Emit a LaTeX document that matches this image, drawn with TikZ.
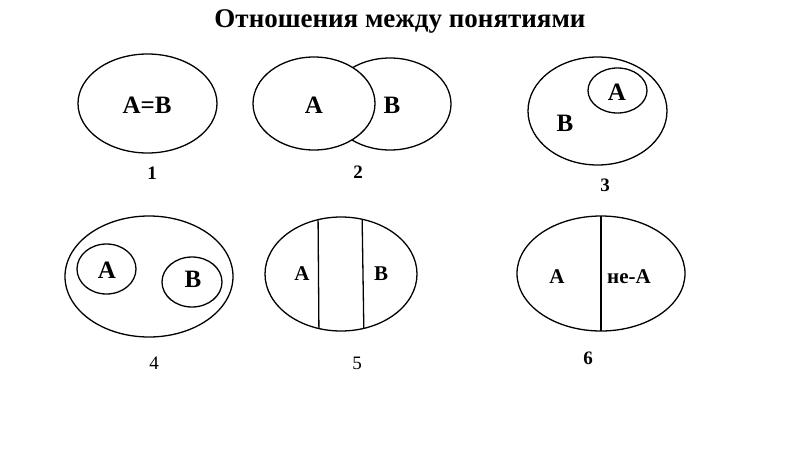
\documentclass[tikz,border=0pt]{standalone}
\usepackage{fontspec}
\setmainfont{Liberation Serif}
\begin{document}
\begin{tikzpicture}[x=1pt, y=-1pt,
    ring/.style={line width=1.3pt},
    tag/.style={font=\fontsize{25}{27}\selectfont\bfseries, inner sep=0pt},
    small tag/.style={font=\fontsize{21}{23}\selectfont\bfseries, inner sep=0pt},
    num/.style={font=\fontsize{19}{21}\selectfont\bfseries, inner sep=0pt},
    plain num/.style={font=\fontsize{19}{21}\selectfont, inner sep=0pt}]
    \useasboundingbox (0,0) rectangle (800,450);

    \node[anchor=base, inner sep=0pt, font=\fontsize{27}{29}\selectfont\bfseries] (title) at (400,27) {Отношения между понятиями};

    % 1: equal
    \draw[ring] (147.5,103.5) ellipse [x radius=69.5, y radius=49.5];
    \node[tag] (ab1) at (147,105) {A=B};
    \node[num] (n1) at (152,173) {1};

    % 2: crossing
    \draw[ring] (390,104) ellipse [x radius=61, y radius=46];
    \draw[ring, fill=white] (314,103.5) ellipse [x radius=61, y radius=46.5];
    \node[tag] (a2) at (314,105) {A};
    \node[tag] (b2) at (392,105) {B};
    \node[num] (n2) at (358,172) {2};

    % 3: subordination
    \draw[ring] (597.5,111) ellipse [x radius=69.5, y radius=54];
    \draw[ring] (617.5,90.5) ellipse [x radius=29.5, y radius=22.5];
    \node[tag] (a3) at (617,92) {A};
    \node[tag] (b3) at (565,123) {B};
    \node[num] (n3) at (605,185) {3};

    % 4: co-subordination
    \draw[ring] (149,276.5) ellipse [x radius=84, y radius=60.5];
    \draw[ring] (106.5,269) ellipse [x radius=29.5, y radius=25];
    \draw[ring] (192,282) ellipse [x radius=30, y radius=25];
    \node[tag] (a4) at (107,270) {A};
    \node[tag] (b4) at (193,279) {B};
    \node[plain num] (n4) at (154,363) {4};

    % 5: opposition
    \draw[ring] (341,274) ellipse [x radius=76, y radius=57];
    \begin{scope}
        \clip (341,274) ellipse [x radius=76, y radius=57];
        \draw[ring] (318,210) -- (319,340);
        \draw[ring] (362,210) -- (364,340);
    \end{scope}
    \node[small tag] (a5) at (302,274) {A};
    \node[small tag] (b5) at (381,274) {B};
    \node[plain num] (n5) at (357,363) {5};

    % 6: contradiction
    \draw[ring] (601,273.5) ellipse [x radius=84, y radius=57.5];
    \draw[ring, line width=1.8pt] (601,216) -- (601,331);
    \node[small tag] (a6) at (557,277) {A};
    \node[small tag] (nota6) at (629,277) {не-A};
    \node[num] (n6) at (588,358) {6};
\end{tikzpicture}
\end{document}
